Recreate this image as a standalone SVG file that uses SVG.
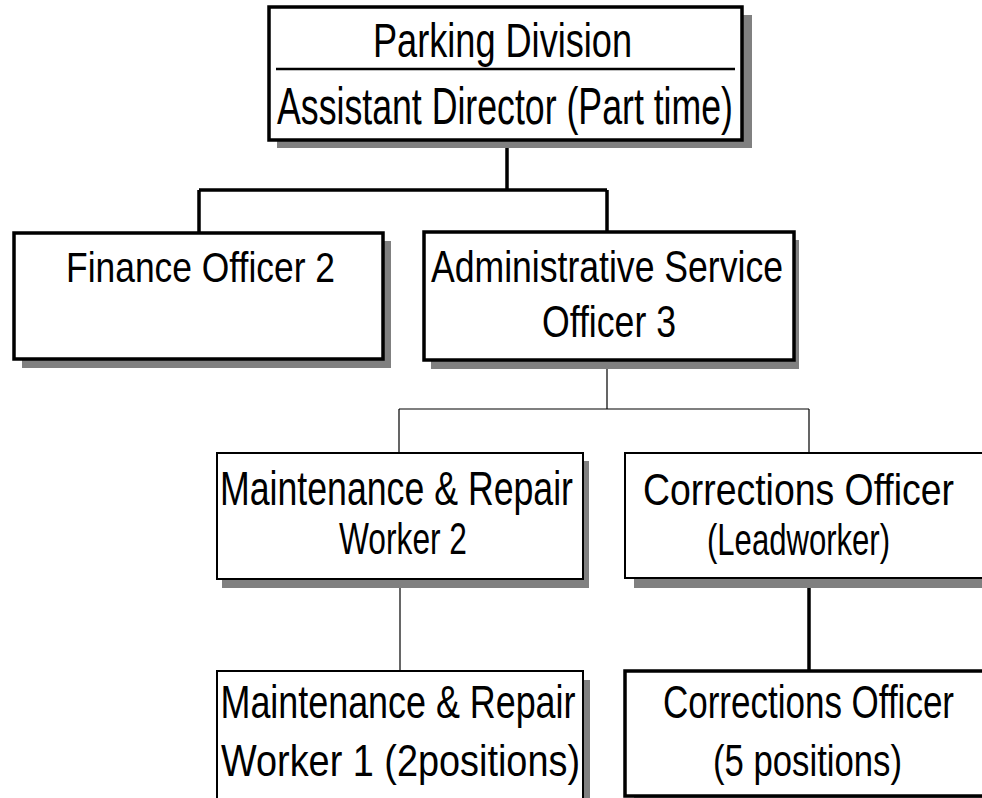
<svg xmlns="http://www.w3.org/2000/svg" width="982" height="798" viewBox="0 0 982 798">
<style>
.bg{fill:#ffffff}
.shadow{fill:#808080}
.box{fill:#ffffff;stroke:#000000}
.thick{stroke-width:3.5}
.thin{stroke-width:2}
.t{font-family:"Liberation Sans",Arial,sans-serif;fill:#000000;text-anchor:middle}
.c3{fill:none;stroke:#000000;stroke-width:3.5}
.c1{fill:none;stroke:#000000;stroke-width:1.2}
</style>
<rect class="bg" x="0" y="0" width="982" height="798"/>
<g id="connectors">
<path class="c3" d="M507 140 V190 M199 190 H607 M199 190 V233 M607 190 V232"/>
<path class="c1" d="M607 360 V409 M399 409 H809 M399 409 V453 M809 409 V453"/>
<path class="c1" d="M400 579 V671"/>
<path class="c3" d="M809 578 V671"/>
</g>
<g id="parking-division">
<rect class="shadow" x="277" y="15" width="475" height="133"/>
<rect class="box thick" x="269" y="7" width="473" height="133"/>
<line x1="276" y1="69" x2="735" y2="69" stroke="#000" stroke-width="2.5"/>
<text class="t" x="502.5" y="57" font-size="48" textLength="259" lengthAdjust="spacingAndGlyphs">Parking Division</text>
<text class="t" x="505" y="124" font-size="52" textLength="456" lengthAdjust="spacingAndGlyphs">Assistant Director (Part time)</text>
</g>
<g id="finance-officer">
<rect class="shadow" x="22" y="241" width="369" height="127"/>
<rect class="box thick" x="14" y="233" width="369" height="126"/>
<text class="t" x="200.5" y="282" font-size="42" textLength="269" lengthAdjust="spacingAndGlyphs">Finance Officer 2</text>
</g>
<g id="admin-service-officer">
<rect class="shadow" x="431" y="240" width="368" height="129"/>
<rect class="box thick" x="424" y="232" width="370" height="128"/>
<text class="t" x="607" y="282" font-size="45" textLength="352" lengthAdjust="spacingAndGlyphs">Administrative Service</text>
<text class="t" x="609" y="337" font-size="45" textLength="134" lengthAdjust="spacingAndGlyphs">Officer 3</text>
</g>
<g id="maint-repair-2">
<rect class="shadow" x="222" y="461" width="367" height="127"/>
<rect class="box thin" x="217" y="453" width="366" height="126"/>
<text class="t" x="396.5" y="505" font-size="48" textLength="353" lengthAdjust="spacingAndGlyphs">Maintenance &amp; Repair</text>
<text class="t" x="403" y="554" font-size="45" textLength="128" lengthAdjust="spacingAndGlyphs">Worker 2</text>
</g>
<g id="corrections-lead">
<rect class="shadow" x="634" y="461" width="360" height="127"/>
<rect class="box thin" x="625" y="453" width="366" height="125"/>
<text class="t" x="798.5" y="505" font-size="45" textLength="311" lengthAdjust="spacingAndGlyphs">Corrections Officer</text>
<text class="t" x="798.5" y="555" font-size="45" textLength="183" lengthAdjust="spacingAndGlyphs">(Leadworker)</text>
</g>
<g id="maint-repair-1">
<rect class="shadow" x="222" y="680" width="368" height="130"/>
<rect class="box thin" x="217" y="671" width="366" height="140"/>
<text class="t" x="398" y="718" font-size="46" textLength="355" lengthAdjust="spacingAndGlyphs">Maintenance &amp; Repair</text>
<text class="t" x="400.5" y="776" font-size="45" textLength="359" lengthAdjust="spacingAndGlyphs">Worker 1 (2positions)</text>
</g>
<g id="corrections-officer">
<rect class="shadow" x="634" y="679" width="360" height="127"/>
<rect class="box thick" x="625" y="671" width="366" height="125"/>
<text class="t" x="808.5" y="718" font-size="46" textLength="291" lengthAdjust="spacingAndGlyphs">Corrections Officer</text>
<text class="t" x="807.5" y="776" font-size="45" textLength="189" lengthAdjust="spacingAndGlyphs">(5 positions)</text>
</g>
</svg>
